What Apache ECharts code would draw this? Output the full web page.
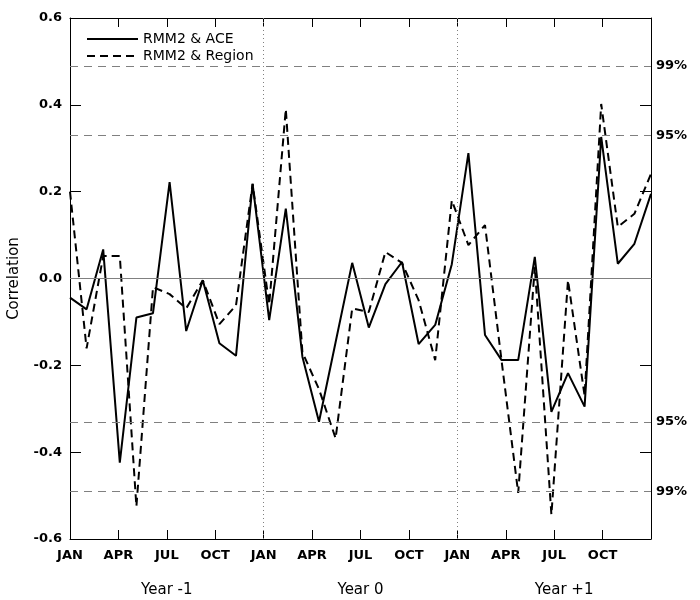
<!DOCTYPE html>
<html>
<head>
<meta charset="utf-8">
<script src="https://cdn.jsdelivr.net/npm/echarts@6/dist/echarts.min.js"></script>
<style>
  html, body { margin: 0; padding: 0; background: #fff; }
  #chart { width: 700px; height: 600px; }
</style>
</head>
<body>
<div id="chart"></div>
<script>
// ---- data ----
const months = [
  'JAN-1','FEB-1','MAR-1','APR-1','MAY-1','JUN-1','JUL-1','AUG-1','SEP-1','OCT-1','NOV-1','DEC-1',
  'JAN0','FEB0','MAR0','APR0','MAY0','JUN0','JUL0','AUG0','SEP0','OCT0','NOV0','DEC0',
  'JAN+1','FEB+1','MAR+1','APR+1','MAY+1','JUN+1','JUL+1','AUG+1','SEP+1','OCT+1','NOV+1','DEC+1'
];
const rmm2Ace = [
  -0.044, -0.071, 0.067, -0.424, -0.090, -0.080, 0.222, -0.121, -0.004, -0.149, -0.178, 0.218,
  -0.096, 0.161, -0.180, -0.330, -0.147, 0.036, -0.113, -0.013, 0.038, -0.151, -0.107, 0.033,
  0.289, -0.130, -0.188, -0.188, 0.050, -0.307, -0.218, -0.295, 0.326, 0.034, 0.080, 0.195
];
const rmm2Region = [
  0.200, -0.161, 0.052, 0.052, -0.525, -0.020, -0.036, -0.069, -0.004, -0.105, -0.062, 0.218,
  -0.060, 0.390, -0.170, -0.255, -0.368, -0.069, -0.077, 0.061, 0.036, -0.050, -0.188, 0.180,
  0.077, 0.123, -0.190, -0.494, 0.027, -0.544, -0.004, -0.270, 0.402, 0.119, 0.149, 0.241
];
const seriesNames = ['RMM2 & ACE', 'RMM2 & Region'];
const tickLabels = ['JAN','APR','JUL','OCT','JAN','APR','JUL','OCT','JAN','APR','JUL','OCT',''];
const yearLabels = { 6: 'Year -1', 18: 'Year 0', 30: 'Year +1' };
const sigLevels = [
  { value: 0.487, label: '99%' },
  { value: 0.331, label: '95%' },
  { value: -0.331, label: '95%' },
  { value: -0.487, label: '99%' }
];
const yearMarks = [12, 24];

// ---- chart ----
const chart = echarts.init(document.getElementById('chart'), null, { renderer: 'canvas' });
const FONT = 'DejaVu Sans';
const black = '#000';
const gray = '#808080';
const DASH = [8, 5];

const markData = [
  { yAxis: 0, lineStyle: { type: 'solid', color: gray, width: 1 }, label: { show: false } }
].concat(sigLevels.map(s => ({
  yAxis: s.value,
  lineStyle: { type: [8, 6], color: gray, width: 1 },
  label: { show: true, position: 'end', formatter: s.label, distance: 5,
           color: black, fontFamily: FONT, fontSize: 13, fontWeight: 'bold' }
}))).concat(yearMarks.map(m => ({
  xAxis: m,
  lineStyle: { type: [1, 3], color: gray, width: 1 },
  label: { show: false }
})));

// legend drawn as graphic (line sample + text)
const legendRows = [
  { name: seriesNames[0], dash: null, y: 39 },
  { name: seriesNames[1], dash: DASH, y: 56 }
];
const legendGraphics = [];
legendRows.forEach(r => {
  legendGraphics.push({
    type: 'line', silent: true,
    shape: { x1: 87, y1: r.y, x2: 138, y2: r.y },
    style: { stroke: black, lineWidth: 2, lineDash: r.dash }
  });
  legendGraphics.push({
    type: 'text', silent: true, x: 143, y: r.y,
    style: { text: r.name, fill: black, font: '14px "' + FONT + '"', verticalAlign: 'middle', align: 'left' }
  });
});

const option = {
  animation: false,
  backgroundColor: '#fff',
  textStyle: { fontFamily: FONT, color: black },
  grid: { left: 70, right: 49, top: 18, bottom: 61, containLabel: false, outerBoundsMode: 'none' },
  graphic: legendGraphics,
  xAxis: [
    { type: 'category', data: months, boundaryGap: false, show: false },
    {
      type: 'value', min: 0, max: 36, interval: 3, position: 'bottom',
      axisLine: { show: true, onZero: false, lineStyle: { color: black, width: 1 } },
      axisTick: { show: true, inside: true, length: 9, lineStyle: { color: black, width: 1 } },
      axisLabel: {
        margin: 10, color: black, fontFamily: FONT, fontSize: 13, fontWeight: 'bold',
        formatter: v => tickLabels[Math.round(v / 3)] || ''
      },
      splitLine: { show: false }
    },
    {
      type: 'value', min: 0, max: 36, interval: 3, position: 'top',
      axisLine: { show: true, onZero: false, lineStyle: { color: black, width: 1 } },
      axisTick: { show: true, inside: true, length: 9, lineStyle: { color: black, width: 1 } },
      axisLabel: { show: false },
      splitLine: { show: false }
    },
    {
      type: 'value', min: 0, max: 36, interval: 6, position: 'bottom',
      axisLine: { show: false }, axisTick: { show: false }, splitLine: { show: false },
      axisLabel: {
        margin: 44, color: black, fontFamily: FONT, fontSize: 15,
        formatter: v => {
          const t = yearLabels[Math.round(v)] || '';
          return Math.round(v) === 30 ? '{s|' + t + '}' : t;
        },
        rich: { s: { padding: [0, 0, 0, 20], fontFamily: FONT, fontSize: 15, color: black } }
      }
    }
  ],
  yAxis: [
    {
      type: 'value', min: -0.6, max: 0.6, interval: 0.2, position: 'left',
      name: 'Correlation', nameLocation: 'middle', nameGap: 48,
      nameTextStyle: { fontFamily: FONT, fontSize: 15, color: black },
      axisLine: { show: true, onZero: false, lineStyle: { color: black, width: 1 } },
      axisTick: { show: true, inside: true, length: 11, lineStyle: { color: black, width: 1 } },
      axisLabel: {
        margin: 8, color: black, fontFamily: FONT, fontSize: 13, fontWeight: 'bold',
        formatter: v => (Math.abs(v) < 1e-9 ? 0 : v).toFixed(1)
      },
      splitLine: { show: false }
    },
    {
      type: 'value', min: -0.6, max: 0.6, interval: 0.2, position: 'right',
      axisLine: { show: true, onZero: false, lineStyle: { color: black, width: 1 } },
      axisTick: { show: true, inside: true, length: 11, lineStyle: { color: black, width: 1 } },
      axisLabel: { show: false },
      splitLine: { show: false }
    }
  ],
  series: [
    {
      name: 'reference', type: 'line', xAxisIndex: 1, yAxisIndex: 0,
      data: [], symbol: 'none', silent: true, z: 1,
      markLine: { silent: true, symbol: ['none', 'none'], animation: false, data: markData }
    },
    {
      name: seriesNames[0], type: 'line', xAxisIndex: 0, yAxisIndex: 0,
      data: rmm2Ace, symbol: 'none', z: 3,
      lineStyle: { color: black, width: 2, type: 'solid' },
      itemStyle: { color: black }
    },
    {
      name: seriesNames[1], type: 'line', xAxisIndex: 0, yAxisIndex: 0,
      data: rmm2Region, symbol: 'none', z: 3,
      lineStyle: { color: black, width: 2, type: DASH },
      itemStyle: { color: black }
    }
  ]
};
chart.setOption(option);
</script>
</body>
</html>
